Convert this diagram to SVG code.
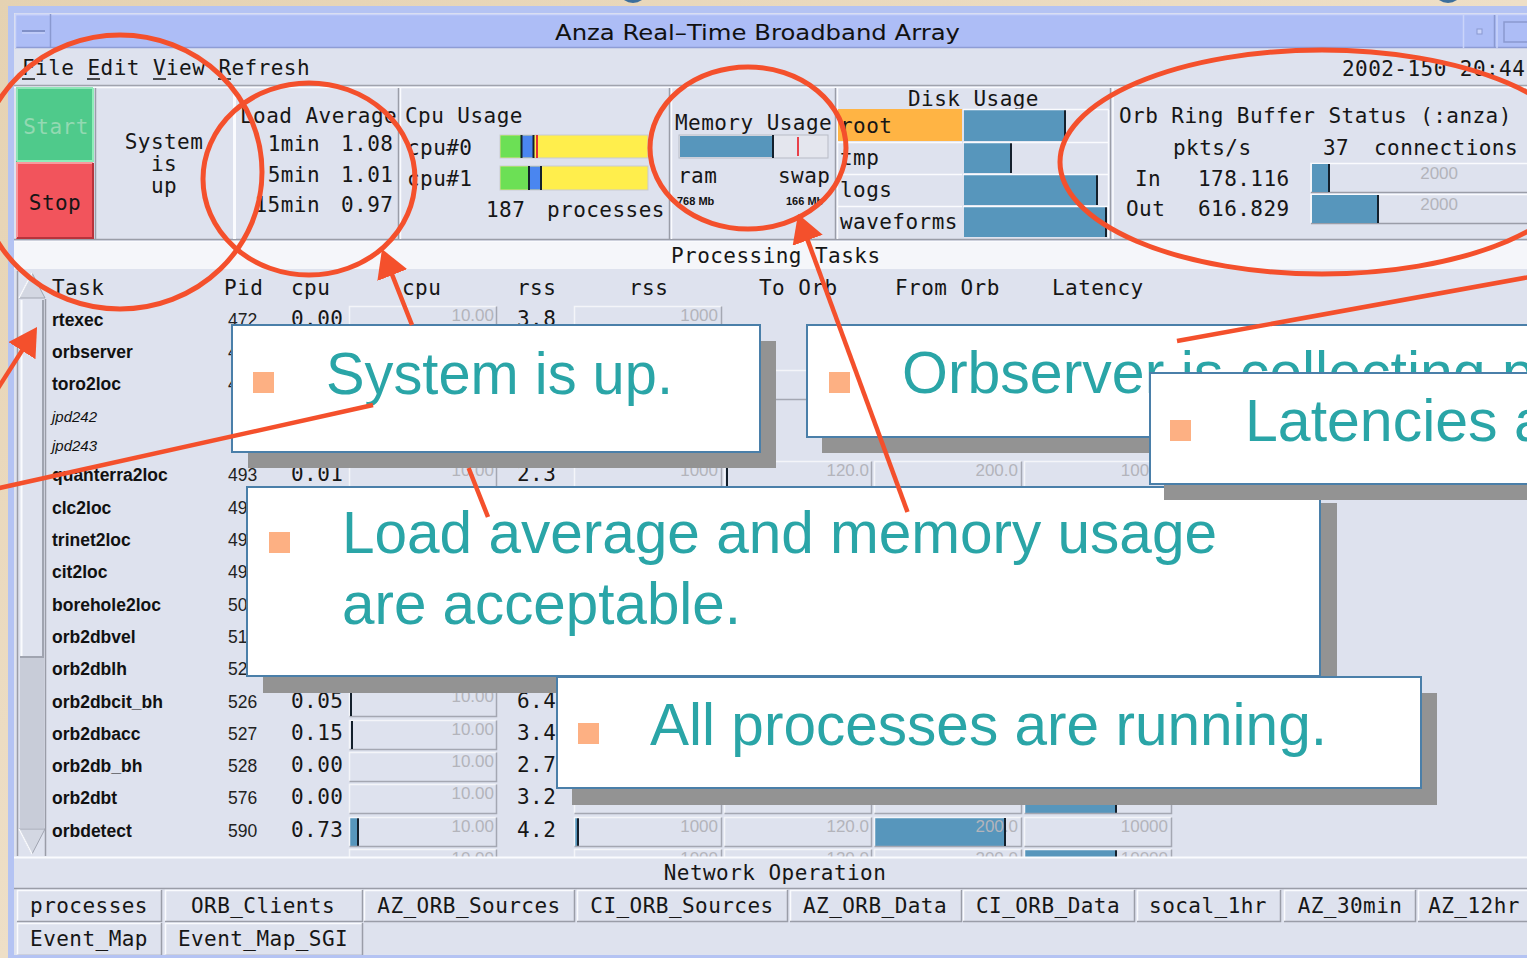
<svg xmlns="http://www.w3.org/2000/svg" width="1527" height="958" viewBox="0 0 1527 958">
<defs>
  <linearGradient id="desk" x1="0" y1="0" x2="1" y2="1">
    <stop offset="0" stop-color="#E5D2B2"/>
    <stop offset="1" stop-color="#F7ECDC"/>
  </linearGradient>
  <clipPath id="table-view">
    <rect x="14" y="241" width="1513" height="616"/>
  </clipPath>
  <marker id="head" markerUnits="userSpaceOnUse" markerWidth="28" markerHeight="32" refX="22" refY="16" orient="auto">
    <path d="M0,0 L28,16 L0,32 z" fill="#F4502C"/>
  </marker>
  <!-- one bar cell of the task table, 148 x 30 -->
  <g id="cell">
    <path d="M0.5,29.5 V0.5 H147.5" fill="none" stroke="#F4F5F9" stroke-width="1.5"/>
    <path d="M147.5,0.5 V29.5 H0.5" fill="none" stroke="#A4A7B2" stroke-width="1.5"/>
  </g>
  <style>
    .mono { font-family: "DejaVu Sans Mono", "Liberation Mono", monospace; font-size: 21px; fill: #161616; letter-spacing: 0.45px; }
    .mid { text-anchor: middle; }
    .task { font-family: "Liberation Sans", Arial, sans-serif; font-weight: bold; font-size: 17.5px; fill: #111; }
    .jpd { font-family: "Liberation Sans", Arial, sans-serif; font-style: italic; font-size: 15px; fill: #111; }
    .pid { font-family: "Liberation Sans", Arial, sans-serif; font-size: 17.5px; fill: #222; }
    .lbl { font-family: "Liberation Sans", Arial, sans-serif; font-size: 17px; fill: #B3B4BB; text-anchor: end; }
    .mb { font-family: "Liberation Sans", Arial, sans-serif; font-size: 11px; font-weight: bold; fill: #111; }
    .blue { fill: #5796BC; }
    .mark { stroke: #14202C; stroke-width: 2; }
    .lt { fill: none; stroke: #FAFBFE; stroke-width: 1.5; }
    .dk { fill: none; stroke: #9A9DA8; stroke-width: 1.5; }
    .box { fill: #FFFFFF; stroke: #4A7FA9; stroke-width: 2; }
    .shadow { fill: #939393; }
    .bullet { fill: #FDB083; }
    .say { font-family: "Liberation Sans", Arial, sans-serif; font-size: 59px; fill: #2AA5A7; }
    .ring { fill: none; stroke: #F4502C; stroke-width: 5; }
    .ray { fill: none; stroke: #F4502C; stroke-width: 4.5; }
    .tab { fill: #DEE2EE; }
  </style>
</defs>

<!-- desktop and window frame -->
<rect width="1527" height="958" fill="url(#desk)"/>
<ellipse cx="633" cy="-6" rx="12" ry="9" fill="#3C6F9C"/>
<ellipse cx="1448" cy="-6" rx="12" ry="9" fill="#3C6F9C"/>
<rect x="8" y="6" width="1519" height="952" fill="#B4C3F3"/>
<rect x="14" y="13" width="1513" height="943" fill="#DEE2EE"/>

<!-- title bar -->
<g id="titlebar">
  <rect x="15" y="14" width="1512" height="34" fill="#ADBDF6"/>
  <path d="M15,14.5 H1527" stroke="#C9D3FA" stroke-width="1.5"/>
  <path d="M15,47.5 H1527" stroke="#8E9DD5" stroke-width="1.5"/>
  <path d="M15.5,48 V14.5 H50" fill="none" stroke="#CAD4FA" stroke-width="1.5"/>
  <path d="M50.5,14 V48" stroke="#8A99D0" stroke-width="1.5"/>
  <path d="M22,31 H45" stroke="#8090C8" stroke-width="2"/>
  <path d="M22,33 H45" stroke="#D0D8FA" stroke-width="1"/>
  <path d="M1463.5,48 V15" stroke="#CAD4FA" stroke-width="1.5"/>
  <path d="M1494.5,15 V48" stroke="#8A99D0" stroke-width="1.5"/>
  <rect x="1477" y="29" width="5" height="5" fill="#C9D3FA" stroke="#8A99D0"/>
  <path d="M1497,48 V15" stroke="#CAD4FA" stroke-width="1.5"/>
  <rect x="1504" y="22" width="30" height="20" fill="none" stroke="#8A99D0" stroke-width="1.5"/>
  <text x="555" y="40" font-family="DejaVu Sans, Liberation Sans, sans-serif" font-size="22" fill="#111" textLength="405" lengthAdjust="spacingAndGlyphs">Anza Real–Time Broadband Array</text>
</g>

<!-- menu bar -->
<g id="menubar">
  <rect x="14" y="49" width="1513" height="37" fill="#DEE2EE"/>
  <text class="mono" x="22" y="75">File Edit View Refresh</text>
  <path d="M22,79 H35 M87,79 H100 M153,79 H166 M218,79 H231" stroke="#161616" stroke-width="1.3"/>
  <text class="mono" x="1342" y="76">2002-150 20:44</text>
  <path d="M14,85.5 H1527" stroke="#A0A3AD" stroke-width="1.5"/>
</g>

<!-- status panels -->
<g id="status-panels">
  <path d="M14,87.5 H1527" class="lt"/>
  <path d="M14,239.5 H1527" class="dk"/>
  <!-- start / stop -->
  <rect x="16" y="87" width="77" height="75" fill="#4FCA8B"/>
  <path d="M17,161 V88 H93" fill="none" stroke="#8FE6B8" stroke-width="2"/>
  <path d="M93,88 V161 H17" fill="none" stroke="#8FEDB9" stroke-width="2"/>
  <text class="mono mid" x="56" y="134" style="fill:#93D9B2">Start</text>
  <rect x="16" y="162" width="77" height="77" fill="#F2545C"/>
  <path d="M17,238 V163 H93" fill="none" stroke="#F79A9E" stroke-width="2"/>
  <path d="M93,163 V238 H17" fill="none" stroke="#B8333B" stroke-width="2"/>
  <text class="mono mid" x="55" y="210">Stop</text>
  <!-- system state -->
  <path d="M95.5,88 V239" class="dk"/>
  <path d="M234.5,88 V239" stroke="#FAFBFE" stroke-width="3"/>
  <text class="mono mid" x="164" y="149">System</text>
  <text class="mono mid" x="164" y="171">is</text>
  <text class="mono mid" x="164" y="193">up</text>
  <!-- load average -->
  <path d="M398.5,88 V239" class="dk"/>
  <text class="mono" x="240" y="123">Load Average</text>
  <text class="mono" x="320" y="151" text-anchor="end">1min</text>
  <text class="mono" x="341" y="151">1.08</text>
  <text class="mono" x="320" y="182" text-anchor="end">5min</text>
  <text class="mono" x="341" y="182">1.01</text>
  <text class="mono" x="320" y="212" text-anchor="end">15min</text>
  <text class="mono" x="341" y="212">0.97</text>
  <!-- cpu usage -->
  <path d="M400.5,88 V239" class="lt"/>
  <path d="M669.5,88 V239" class="dk"/>
  <text class="mono" x="405" y="123">Cpu Usage</text>
  <text class="mono" x="407" y="155">cpu#0</text>
  <text class="mono" x="407" y="186">cpu#1</text>
  <rect x="500" y="135" width="148" height="23" fill="#FFEE4C" stroke="#C7CAD4"/>
  <rect x="500.5" y="135.5" width="21" height="22" fill="#6CE055"/>
  <rect x="522" y="135.5" width="11" height="22" fill="#4A86F0"/>
  <path d="M521.5,135 V158 M533.5,135 V158" class="mark"/>
  <path d="M537,135 V158" stroke="#E03038" stroke-width="2"/>
  <rect x="500" y="166" width="148" height="24" fill="#FFEE4C" stroke="#C7CAD4"/>
  <rect x="500.5" y="166.5" width="28" height="23" fill="#6CE055"/>
  <rect x="529" y="166.5" width="12" height="23" fill="#4A86F0"/>
  <path d="M529,166 V190 M541,166 V190" class="mark"/>
  <text class="mono" x="486" y="217">187</text>
  <text class="mono" x="547" y="217">processes</text>
  <!-- memory usage -->
  <path d="M671.5,88 V239" class="lt"/>
  <path d="M835.5,88 V239" class="dk"/>
  <text class="mono" x="675" y="130">Memory Usage</text>
  <rect x="679" y="135" width="149" height="23" fill="#E4E6EE" stroke="#B8BBC6"/>
  <rect x="680" y="136" width="93" height="21" class="blue"/>
  <path d="M773,135 V158" class="mark"/>
  <path d="M798,137 V156" stroke="#E8404A" stroke-width="2"/>
  <text class="mono" x="678" y="183">ram</text>
  <text class="mono" x="778" y="183">swap</text>
  <text class="mb" x="677" y="205">768 Mb</text>
  <text class="mb" x="786" y="205">166 Mb</text>
  <!-- disk usage -->
  <path d="M837.5,88 V239" class="lt"/>
  <path d="M1110.5,88 V239" class="dk"/>
  <text class="mono" x="908" y="106">Disk Usage</text>
  <rect x="838" y="109" width="124" height="32" fill="#FFB444"/>
  <path d="M838,142.5 H962 M838,174.5 H962 M838,206.5 H962" class="lt"/>
  <text class="mono" x="840" y="133">root</text>
  <text class="mono" x="840" y="165">tmp</text>
  <text class="mono" x="840" y="197">logs</text>
  <text class="mono" x="840" y="229">waveforms</text>
  <rect x="964" y="110" width="101" height="31" class="blue"/>
  <rect x="964" y="143" width="47" height="30" class="blue"/>
  <rect x="964" y="175" width="133" height="30" class="blue"/>
  <rect x="964" y="207" width="142" height="30" class="blue"/>
  <path d="M1065,110 V141 M1011,143 V173 M1097,175 V205 M1106,207 V237" class="mark"/>
  <path d="M963,109.5 H1109 M963,142.5 H1109 M963,174.5 H1109 M963,206.5 H1109" class="lt"/>
  <path d="M1108.5,110 V238" class="lt"/>
  <!-- orb ring buffer -->
  <path d="M1113,88 V239" class="lt"/>
  <text class="mono" x="1119" y="123">Orb Ring Buffer Status (:anza)</text>
  <text class="mono" x="1173" y="155">pkts/s</text>
  <text class="mono" x="1323" y="155">37</text>
  <text class="mono" x="1374" y="155">connections</text>
  <text class="mono" x="1135" y="186">In</text>
  <text class="mono" x="1198" y="186">178.116</text>
  <text class="mono" x="1126" y="216">Out</text>
  <text class="mono" x="1198" y="216">616.829</text>
  <path d="M1311,192 V163.5 H1527" class="lt"/>
  <path d="M1311,192.5 H1527" class="dk"/>
  <rect x="1312" y="164" width="17" height="28" class="blue"/>
  <path d="M1329,164 V192" class="mark"/>
  <text class="lbl" x="1458" y="179">2000</text>
  <path d="M1311,223 V194.5 H1527" class="lt"/>
  <path d="M1311,223.5 H1527" class="dk"/>
  <rect x="1312" y="195" width="66" height="28" class="blue"/>
  <path d="M1378,195 V223" class="mark"/>
  <text class="lbl" x="1458" y="210">2000</text>
</g>

<!-- processing tasks table -->
<g id="task-table" clip-path="url(#table-view)">
  <rect x="14" y="241" width="1513" height="28" fill="#F5F6FA"/>
  <path d="M14,241 H1527" stroke="#FAFBFE" stroke-width="1.5"/>
  <text class="mono" x="671" y="263">Processing Tasks</text>

  <!-- scroll bar -->
  <path d="M17.5,271 V856" class="dk"/>
  <polygon points="32,273 19,298 45,298" fill="#D3D7E2" stroke="#A0A4B0"/>
  <path d="M19,298 L32,273" stroke="#FAFBFE" stroke-width="1.5"/>
  <rect x="20" y="299" width="24" height="358" fill="#DEE2EE"/>
  <path d="M21.5,657 V300" stroke="#FAFBFE" stroke-width="2"/>
  <path d="M43,300 V657 H20" fill="none" stroke="#A0A4B0" stroke-width="2"/>
  <rect x="20" y="658" width="24" height="170" fill="#C8CCD8"/>
  <path d="M45.5,299 V856" class="dk"/>
  <polygon points="19,829 45,829 32,854" fill="#D3D7E2" stroke="#A0A4B0"/>
  <path d="M19,829 L32,854" stroke="#FAFBFE" stroke-width="1.5"/>

  <!-- column heads -->
  <text class="mono" x="52" y="295">Task</text>
  <text class="mono" x="224" y="295">Pid</text>
  <text class="mono" x="291" y="295">cpu</text>
  <text class="mono" x="402" y="295">cpu</text>
  <text class="mono" x="517" y="295">rss</text>
  <text class="mono" x="629" y="295">rss</text>
  <text class="mono" x="759" y="295">To Orb</text>
  <text class="mono" x="895" y="295">From Orb</text>
  <text class="mono" x="1052" y="295">Latency</text>

  <!-- bar cells -->
  <use href="#cell" x="349" y="306"/><text class="lbl" x="494" y="321">10.00</text>
  <use href="#cell" x="574" y="306"/><text class="lbl" x="718" y="321">1000</text>
  <use href="#cell" x="724" y="370"/>

  <use href="#cell" x="349" y="461"/><text class="lbl" x="494" y="476">10.00</text>
  <use href="#cell" x="574" y="461"/><text class="lbl" x="718" y="476">1000</text>
  <use href="#cell" x="724" y="461"/><path d="M727,462 V490" class="mark"/><text class="lbl" x="869" y="476">120.0</text>
  <use href="#cell" x="874" y="461"/><text class="lbl" x="1018" y="476">200.0</text>
  <use href="#cell" x="1024" y="461"/><text class="lbl" x="1168" y="476">10000</text>

  <use href="#cell" x="349" y="687"/><path d="M351,688 V716" class="mark"/><text class="lbl" x="494" y="702">10.00</text>
  <use href="#cell" x="349" y="720"/><path d="M352,721 V749" class="mark"/><text class="lbl" x="494" y="735">10.00</text>
  <use href="#cell" x="349" y="752"/><text class="lbl" x="494" y="767">10.00</text>
  <use href="#cell" x="349" y="784"/><text class="lbl" x="494" y="799">10.00</text>
  <use href="#cell" x="574" y="784"/>
  <use href="#cell" x="724" y="784"/>
  <use href="#cell" x="874" y="784"/>
  <rect x="1025" y="785" width="91" height="28" class="blue"/><path d="M1116,785 V813" class="mark"/>
  <use href="#cell" x="1024" y="784"/>

  <rect x="350" y="818" width="8" height="28" class="blue"/><path d="M358,818 V846" class="mark"/>
  <use href="#cell" x="349" y="817"/><text class="lbl" x="494" y="832">10.00</text>
  <rect x="575" y="818" width="3" height="28" class="blue"/><path d="M578,818 V846" class="mark"/>
  <use href="#cell" x="574" y="817"/><text class="lbl" x="718" y="832">1000</text>
  <use href="#cell" x="724" y="817"/><text class="lbl" x="869" y="832">120.0</text>
  <rect x="875" y="818" width="130" height="28" class="blue"/>
  <use href="#cell" x="874" y="817"/><text class="lbl" x="1018" y="832">200.0</text><path d="M1005,818 V846" class="mark"/>
  <use href="#cell" x="1024" y="817"/><text class="lbl" x="1168" y="832">10000</text>

  <!-- next row, scrolled mostly out of view -->
  <use href="#cell" x="349" y="849"/><text class="lbl" x="494" y="864">10.00</text>
  <use href="#cell" x="574" y="849"/><text class="lbl" x="718" y="864">1000</text>
  <use href="#cell" x="724" y="849"/><text class="lbl" x="869" y="864">120.0</text>
  <use href="#cell" x="874" y="849"/><text class="lbl" x="1018" y="864">200.0</text>
  <rect x="1025" y="850" width="91" height="8" class="blue"/><path d="M1116,850 V858" class="mark"/>
  <use href="#cell" x="1024" y="849"/><text class="lbl" x="1168" y="864">10000</text>

  <!-- rows -->
  <text class="task" x="52" y="326">rtexec</text><text class="pid" x="228" y="326">472</text><text class="mono" x="291" y="326">0.00</text><text class="mono" x="517" y="326">3.8</text>
  <text class="task" x="52" y="358">orbserver</text><text class="pid" x="228" y="358">4</text>
  <text class="task" x="52" y="390">toro2loc</text><text class="pid" x="228" y="390">4</text>
  <text class="jpd" x="52" y="422">jpd242</text>
  <text class="jpd" x="52" y="451">jpd243</text>
  <text class="task" x="52" y="481">quanterra2loc</text><text class="pid" x="228" y="481">493</text><text class="mono" x="291" y="481">0.01</text><text class="mono" x="517" y="481">2.3</text>
  <text class="task" x="52" y="514">clc2loc</text><text class="pid" x="228" y="514">49</text>
  <text class="task" x="52" y="546">trinet2loc</text><text class="pid" x="228" y="546">49</text>
  <text class="task" x="52" y="578">cit2loc</text><text class="pid" x="228" y="578">49</text>
  <text class="task" x="52" y="611">borehole2loc</text><text class="pid" x="228" y="611">50</text>
  <text class="task" x="52" y="643">orb2dbvel</text><text class="pid" x="228" y="643">51</text>
  <text class="task" x="52" y="675">orb2dblh</text><text class="pid" x="228" y="675">52</text>
  <text class="task" x="52" y="708">orb2dbcit_bh</text><text class="pid" x="228" y="708">526</text><text class="mono" x="291" y="708">0.05</text><text class="mono" x="517" y="708">6.4</text>
  <text class="task" x="52" y="740">orb2dbacc</text><text class="pid" x="228" y="740">527</text><text class="mono" x="291" y="740">0.15</text><text class="mono" x="517" y="740">3.4</text>
  <text class="task" x="52" y="772">orb2db_bh</text><text class="pid" x="228" y="772">528</text><text class="mono" x="291" y="772">0.00</text><text class="mono" x="517" y="772">2.7</text>
  <text class="task" x="52" y="804">orb2dbt</text><text class="pid" x="228" y="804">576</text><text class="mono" x="291" y="804">0.00</text><text class="mono" x="517" y="804">3.2</text>
  <text class="task" x="52" y="837">orbdetect</text><text class="pid" x="228" y="837">590</text><text class="mono" x="291" y="837">0.73</text><text class="mono" x="517" y="837">4.2</text>
</g>

<!-- network operation tabs -->
<g id="network-tabs">
  <rect x="14" y="857" width="1513" height="99" fill="#DEE2EE"/>
  <path d="M14,857.5 H1527" stroke="#FAFBFE" stroke-width="2"/>
  <path d="M14,888.5 H1527" class="dk"/>
  <text class="mono mid" x="775" y="880">Network Operation</text>
  <g class="tabs">
    <rect class="tab" x="17" y="890" width="144" height="31"/><path d="M17.5,921 V890.5 H161" class="lt"/><path d="M161.5,890 V921.5 H17" class="dk"/>
    <rect class="tab" x="165" y="890" width="197" height="31"/><path d="M165.5,921 V890.5 H362" class="lt"/><path d="M362.5,890 V921.5 H165" class="dk"/>
    <rect class="tab" x="364" y="890" width="210" height="31"/><path d="M364.5,921 V890.5 H574" class="lt"/><path d="M574.5,890 V921.5 H364" class="dk"/>
    <rect class="tab" x="577" y="890" width="210" height="31"/><path d="M577.5,921 V890.5 H787" class="lt"/><path d="M787.5,890 V921.5 H577" class="dk"/>
    <rect class="tab" x="790" y="890" width="171" height="31"/><path d="M790.5,921 V890.5 H961" class="lt"/><path d="M961.5,890 V921.5 H790" class="dk"/>
    <rect class="tab" x="963" y="890" width="171" height="31"/><path d="M963.5,921 V890.5 H1134" class="lt"/><path d="M1134.5,890 V921.5 H963" class="dk"/>
    <rect class="tab" x="1137" y="890" width="143" height="31"/><path d="M1137.5,921 V890.5 H1280" class="lt"/><path d="M1280.5,890 V921.5 H1137" class="dk"/>
    <rect class="tab" x="1284" y="890" width="131" height="31"/><path d="M1284.5,921 V890.5 H1415" class="lt"/><path d="M1415.5,890 V921.5 H1284" class="dk"/>
    <rect class="tab" x="1418" y="890" width="109" height="31"/><path d="M1418.5,921 V890.5 H1527" class="lt"/><path d="M1418,921.5 H1527" class="dk"/>
    <rect class="tab" x="17" y="923" width="144" height="32"/><path d="M17.5,955 V923.5 H161" class="lt"/><path d="M161.5,923 V955.5 H17" class="dk"/>
    <rect class="tab" x="165" y="923" width="197" height="32"/><path d="M165.5,955 V923.5 H362" class="lt"/><path d="M362.5,923 V955.5 H165" class="dk"/>
  </g>
  <text class="mono mid" x="89" y="913">processes</text>
  <text class="mono mid" x="263" y="913">ORB_Clients</text>
  <text class="mono mid" x="469" y="913">AZ_ORB_Sources</text>
  <text class="mono mid" x="682" y="913">CI_ORB_Sources</text>
  <text class="mono mid" x="875" y="913">AZ_ORB_Data</text>
  <text class="mono mid" x="1048" y="913">CI_ORB_Data</text>
  <text class="mono mid" x="1208" y="913">socal_1hr</text>
  <text class="mono mid" x="1350" y="913">AZ_30min</text>
  <text class="mono mid" x="1474" y="913">AZ_12hr</text>
  <text class="mono mid" x="89" y="946">Event_Map</text>
  <text class="mono mid" x="263" y="946">Event_Map_SGI</text>
  <path d="M14,956.5 H1527" stroke="#B4C3F3" stroke-width="3"/>
</g>

<!-- callouts -->
<g id="callout-orbserver">
  <rect class="shadow" x="822" y="341" width="740" height="112"/>
  <rect class="box" x="807" y="325" width="740" height="112"/>
  <rect class="bullet" x="829" y="372" width="21" height="21"/>
  <text class="say" x="902" y="393">Orbserver is collecting p</text>
</g>
<g id="callout-load-memory">
  <rect class="shadow" x="263" y="503" width="1074" height="190"/>
  <rect class="box" x="247" y="487" width="1073" height="189"/>
  <rect class="bullet" x="269" y="532" width="21" height="21"/>
  <text class="say" x="342" y="553" textLength="875" lengthAdjust="spacingAndGlyphs">Load average and memory usage</text>
  <text class="say" x="342" y="624" textLength="399" lengthAdjust="spacingAndGlyphs">are acceptable.</text>
</g>
<g id="callout-system">
  <rect class="shadow" x="248" y="341" width="528" height="127"/>
  <rect class="box" x="232" y="325" width="528" height="127"/>
  <rect class="bullet" x="253" y="372" width="21" height="21"/>
  <text class="say" x="326" y="394" textLength="347" lengthAdjust="spacingAndGlyphs">System is up.</text>
</g>
<g id="callout-latencies">
  <rect class="shadow" x="1164" y="389" width="400" height="111"/>
  <rect class="box" x="1150" y="373" width="400" height="111"/>
  <rect class="bullet" x="1170" y="420" width="21" height="21"/>
  <text class="say" x="1245" y="441">Latencies a</text>
</g>
<g id="callout-processes">
  <rect class="shadow" x="572" y="693" width="865" height="112"/>
  <rect class="box" x="557" y="677" width="864" height="111"/>
  <rect class="bullet" x="578" y="723" width="21" height="21"/>
  <text class="say" x="650" y="745" textLength="677" lengthAdjust="spacingAndGlyphs">All processes are running.</text>
</g>

<!-- highlight rings and pointer lines -->
<g id="connectors">
  <ellipse class="ring" cx="120" cy="172" rx="142" ry="137"/>
  <ellipse class="ring" cx="309" cy="179" rx="106" ry="96"/>
  <ellipse class="ring" cx="748" cy="148" rx="98" ry="81"/>
  <ellipse class="ring" cx="1322" cy="162" rx="262" ry="112"/>
  <path class="ray" d="M-5,393 L33.8,332.1" marker-end="url(#head)"/>
  <path class="ray" d="M-5,489 L373,405"/>
  <path class="ray" d="M488,517 L468.6,468 M412,325 L384.2,254.6" marker-end="url(#head)"/>
  <path class="ray" d="M907.5,512 L800.1,219.6" marker-end="url(#head)"/>
  <path class="ray" d="M1535,276 L1177,341"/>
</g>
</svg>
